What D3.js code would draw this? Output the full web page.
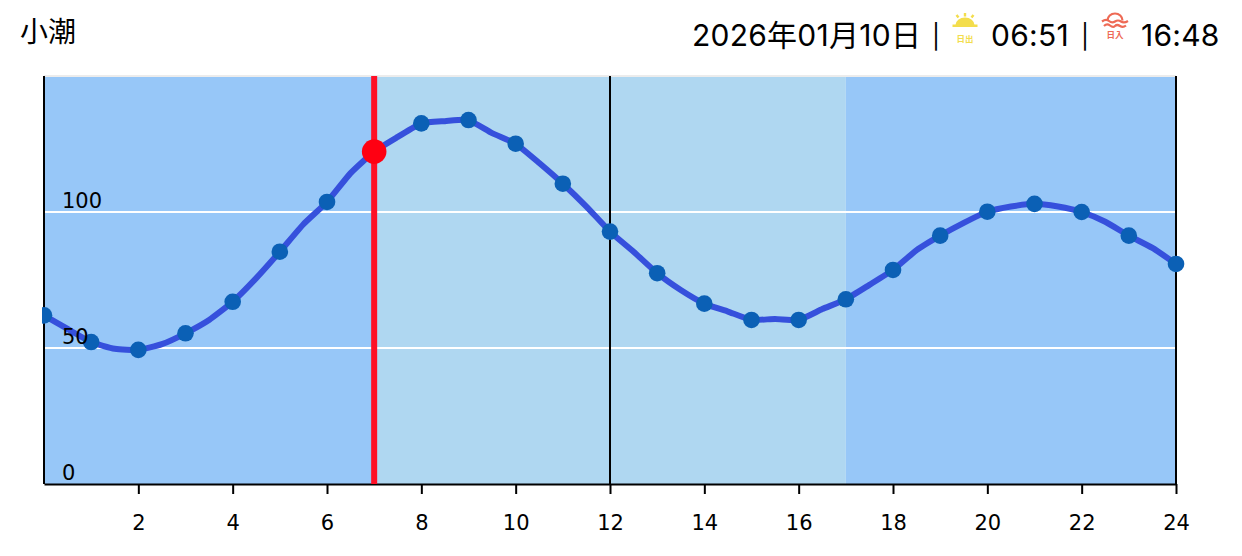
<!DOCTYPE html>
<html>
<head>
<meta charset="utf-8">
<title>小潮</title>
<script src="https://cdn.jsdelivr.net/npm/d3@7"></script>
<style>
html, body { margin: 0; padding: 0; background: #fff; }
svg { display: block; }
.head { font-family: Inter, "Noto Sans CJK JP", sans-serif; font-size: 30px; letter-spacing: 0.25px; fill: #000; }
.title { font-family: "Noto Sans CJK JP", sans-serif; font-size: 28px; fill: #000; }
.pipe { font-family: Inter, sans-serif; font-size: 24px; fill: #000; text-anchor: middle; }
.tick-label { font-family: "DejaVu Sans", sans-serif; font-size: 21px; fill: #000; }
</style>
</head>
<body>
<svg id="chart" width="1242" height="556"></svg>
<script>
// 毎時の潮位
var hours = [0,1,2,3,4,5,6,7,8,9,10,11,12,13,14,15,16,17,18,19,20,21,22,23,24];
var hourLevels = [62,52.2,49.3,55.4,67,85.4,103.7,122.2,132.6,133.8,125.1,110.4,92.8,77.5,66.3,60.3,60.3,67.9,78.7,91.3,100.1,103,100,91.3,80.9];

// 30分の潮位 (0.5, 1.5, ... 23.5)
var halfHours = [0.5,1.5,2.5,3.5,4.5,5.5,6.5,7.5,8.5,9.5,10.5,11.5,12.5,13.5,14.5,15.5,16.5,17.5,18.5,19.5,20.5,21.5,22.5,23.5];
var halfLevels = [57,49.7,51.4,60.3,75.7,95.5,114.3,127.6,133.4,129,118,102,85.4,71.3,63.4,60.7,64.3,73.2,86,96,102,102,96.4,86.8];

var xTicks = [2,4,6,8,10,12,14,16,18,20,22,24];
var yTicks = [0,50,100];
var gridLevels = [50,100];
var blackHours = [0,12,24];

// 夜、昼、夜
var bandStarts = [0,7,17];
var bandEnds = [7,17,24];
var bandColors = ["#97c7f8","#afd7f1","#97c7f8"];

var nowHour = 7;
var nowLevel = 122.2;

var tideName = "小潮";
var dateText = "2026年01月10日";
var sunriseText = "06:51";
var sunsetText = "16:48";

var svg = d3.select("#chart");

var x = d3.scaleLinear().domain([0,24]).range([44,1176]);
var y = d3.scaleLinear().domain([0,150]).range([484,76]);

// 0時の点は左側が切れる
svg.append("clipPath")
    .attr("id","plot-clip")
    .append("rect")
    .attr("x", x(0) - 2)
    .attr("y", 0)
    .attr("width", 1242)
    .attr("height", 556);

// 背景
svg.selectAll(".band")
    .data(bandStarts)
    .enter().append("rect")
    .attr("class","band")
    .attr("x", function(d) { return x(d); })
    .attr("y", y(150))
    .attr("width", function(d,i) { return x(bandEnds[i]) - x(d); })
    .attr("height", y(0) - y(150))
    .attr("fill", function(d,i) { return bandColors[i]; });

svg.append("line")
    .attr("x1", x(0)).attr("x2", x(24))
    .attr("y1", y(150)).attr("y2", y(150))
    .attr("stroke","#ececec").attr("stroke-width",2);

svg.selectAll(".grid")
    .data(gridLevels)
    .enter().append("line")
    .attr("class","grid")
    .attr("x1", x(0)).attr("x2", x(24))
    .attr("y1", function(d) { return y(d); })
    .attr("y2", function(d) { return y(d); })
    .attr("stroke","#fff").attr("stroke-width",2);

svg.selectAll(".vline")
    .data(blackHours)
    .enter().append("line")
    .attr("class","vline")
    .attr("x1", function(d) { return x(d); })
    .attr("x2", function(d) { return x(d); })
    .attr("y1", y(150)).attr("y2", y(0))
    .attr("stroke","#000").attr("stroke-width",2);

// x軸
var xAxis = svg.append("g")
    .attr("transform","translate(0," + y(0) + ")")
    .call(d3.axisBottom(x).tickValues(xTicks).tickSize(10).tickSizeOuter(0).tickPadding(21));
xAxis.select(".domain").attr("stroke","#000").attr("stroke-width",2);
xAxis.selectAll(".tick line").attr("stroke","#000").attr("stroke-width",2);
xAxis.selectAll(".tick text").attr("class","tick-label").attr("fill","#000");

// 現在時刻
svg.append("line")
    .attr("x1", x(nowHour)).attr("x2", x(nowHour))
    .attr("y1", y(150)).attr("y2", y(0))
    .attr("stroke","#ff1026").attr("stroke-width",6);

// 折れ線
var linePoints = [];
hours.forEach(function(h,i) { linePoints.push([h, hourLevels[i]]); });
halfHours.forEach(function(h,i) { linePoints.push([h, halfLevels[i]]); });
linePoints.sort(function(a,b) { return a[0] - b[0]; });

var line = d3.line()
    .x(function(d) { return x(d[0]); })
    .y(function(d) { return y(d[1]); })
    .curve(d3.curveCardinal.tension(0.5));

var plot = svg.append("g").attr("clip-path","url(#plot-clip)");

plot.append("path")
    .datum(linePoints)
    .attr("d", line)
    .attr("fill","none")
    .attr("stroke","#3650dc")
    .attr("stroke-width",6);

plot.selectAll(".dot")
    .data(hours)
    .enter().append("circle")
    .attr("class","dot")
    .attr("cx", function(d) { return x(d); })
    .attr("cy", function(d,i) { return y(hourLevels[i]); })
    .attr("r",8.3)
    .attr("fill","#0b60b5");

plot.append("circle")
    .attr("cx", x(nowHour))
    .attr("cy", y(nowLevel))
    .attr("r",12.3)
    .attr("fill","#ff0012");

// y軸の文字は一番上
svg.selectAll(".y-label")
    .data(yTicks)
    .enter().append("text")
    .attr("class","y-label tick-label")
    .attr("x", x(0) + 18)
    .attr("y", function(d) { return y(d) - 4; })
    .text(function(d) { return d; });

// ヘッダー
svg.append("text").attr("class","title").attr("x",20).attr("y",42).text(tideName);
svg.append("text").attr("class","head").attr("x",692).attr("y",45.5).text(dateText);
svg.append("text").attr("class","pipe").attr("x",936).attr("y",45).text("|");
svg.append("text").attr("class","head").attr("x",991).attr("y",45.5).text(sunriseText);
svg.append("text").attr("class","pipe").attr("x",1085).attr("y",45).text("|");
svg.append("text").attr("class","head").attr("x",1141).attr("y",45.5).text(sunsetText);

// 日出アイコン
var rise = svg.append("g").attr("transform","translate(965,25)");
rise.append("path").attr("d","M-9.5,0 A9.5,7.5 0 0 1 9.5,0 Z").attr("fill","#f3dd4c");
rise.append("rect").attr("x",-12.5).attr("y",-0.5).attr("width",25).attr("height",2.5).attr("fill","#f3dd4c");
rise.append("path").attr("d","M0,-12 V-8.5 M-8.5,-10 L-6.5,-7.5 M8.5,-10 L6.5,-7.5")
    .attr("stroke","#f3dd4c").attr("stroke-width",2.4).attr("fill","none");
rise.append("text").attr("x",0).attr("y",16.5).attr("text-anchor","middle")
    .attr("font-family","'Noto Sans CJK JP'").attr("font-size",8.5).attr("font-weight",700)
    .attr("fill","#f3dd4c").text("日出");

// 日入アイコン
var set = svg.append("g").attr("transform","translate(1115,22)");
set.append("path").attr("d","M-7.5,-1.5 A7.5,7 0 0 1 7.5,-1.5").attr("stroke","#ee6a55").attr("stroke-width",2.2).attr("fill","none");
set.append("path").attr("d","M-13,-0.5 Q-9,-3.5 -6,-1 T0,-0.5 T6,-0.5 T13,-1").attr("stroke","#ee6a55").attr("stroke-width",2.2).attr("fill","none");
set.append("path").attr("d","M-11,4 Q-8,1 -5,3.5 T0,4 T5,4 T11,3.5").attr("stroke","#ee6a55").attr("stroke-width",2.2).attr("fill","none");
set.append("text").attr("x",0).attr("y",16).attr("text-anchor","middle")
    .attr("font-family","'Noto Sans CJK JP'").attr("font-size",8.5).attr("font-weight",700)
    .attr("fill","#ee6a55").text("日入");
</script>
</body>
</html>
